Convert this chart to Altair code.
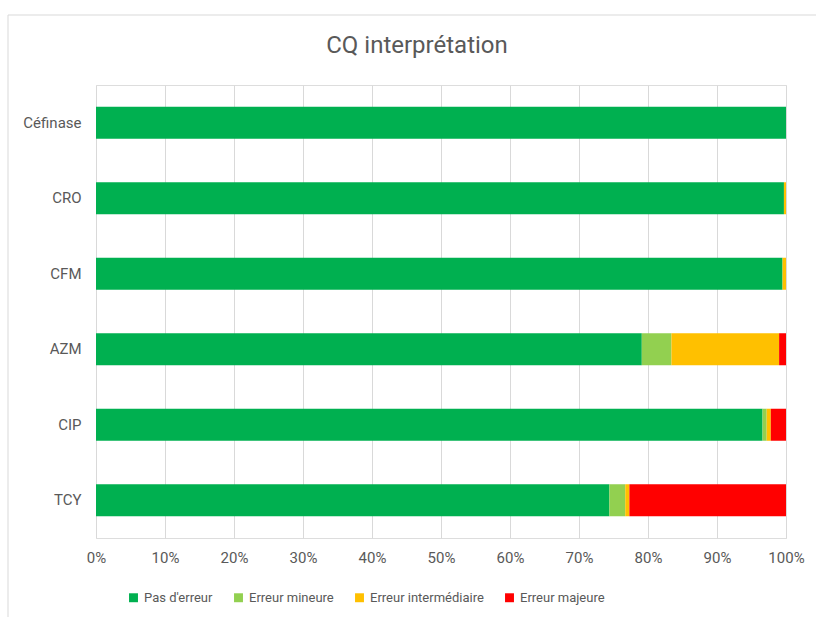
import altair as alt
import pandas as pd

# Categories (top to bottom) and the share of each interpretation outcome (%)
categories = ["Céfinase", "CRO", "CFM", "AZM", "CIP", "TCY"]
pas_erreur = [100.0, 99.7, 99.5, 79.1, 96.6, 74.4]
erreur_mineure = [0.0, 0.0, 0.0, 4.3, 0.6, 2.3]
erreur_intermediaire = [0.0, 0.3, 0.5, 15.6, 0.6, 0.6]
erreur_majeure = [0.0, 0.0, 0.0, 1.0, 2.2, 22.7]

series_names = ["Pas d'erreur", "Erreur mineure", "Erreur intermédiaire", "Erreur majeure"]
series_colors = ["#00B050", "#92D050", "#FFC000", "#FF0000"]
series_values = [pas_erreur, erreur_mineure, erreur_intermediaire, erreur_majeure]

rows = []
for s_idx, (name, vals) in enumerate(zip(series_names, series_values)):
    for cat, v in zip(categories, vals):
        rows.append({"categorie": cat, "serie": name, "ordre": s_idx, "valeur": v})
df = pd.DataFrame(rows)

FONT = "Roboto"
GREY_TEXT = "#595959"
GREY_LINE = "#d9d9d9"

bars = alt.Chart(df).mark_bar().encode(
    y=alt.Y(
        "categorie:N",
        sort=categories,
        title=None,
        scale=alt.Scale(paddingInner=0.576, paddingOuter=0.288),
        axis=alt.Axis(domain=False, ticks=False, labelPadding=15,
                      labelFontSize=15, labelColor=GREY_TEXT, labelFont=FONT),
    ),
    x=alt.X(
        "valeur:Q",
        stack="normalize",
        title=None,
        scale=alt.Scale(domain=[0, 1]),
        axis=alt.Axis(values=[i / 10 for i in range(11)], format=".0%",
                      domain=False, ticks=False, labelPadding=12,
                      labelFlush=False,
                      labelFontSize=15, labelColor=GREY_TEXT, labelFont=FONT,
                      grid=True, gridColor=GREY_LINE, gridWidth=1),
    ),
    color=alt.Color(
        "serie:N",
        scale=alt.Scale(domain=series_names, range=series_colors),
        title=None,
        legend=alt.Legend(orient="none", direction="horizontal",
                          legendX=31, legendY=506,
                          symbolType="square", symbolSize=80, symbolStrokeWidth=0,
                          labelFontSize=13, labelColor=GREY_TEXT, labelFont=FONT,
                          labelOffset=4, columnPadding=19),
    ),
    order=alt.Order("ordre:Q", sort="ascending"),
)

# Light grey frame around the whole chart area
frame = alt.Chart(pd.DataFrame({"k": [0]})).mark_rect(
    fill=None, stroke=GREY_LINE, strokeWidth=1
).encode(
    x=alt.value(-88), x2=alt.value(740),
    y=alt.value(-70), y2=alt.value(545),
)

chart = alt.layer(frame, bars).properties(
    width=690,
    height=453,
    padding={"left": 96, "top": 85, "right": 30, "bottom": 79},
    autosize=alt.AutoSizeParams(type="none"),
    title=alt.TitleParams("CQ interprétation", fontSize=24, font=FONT,
                          fontWeight="normal", color=GREY_TEXT,
                          offset=30, dy=73, dx=-24),
).configure_view(stroke=None).configure(background="white")

chart.save("out.html", embed_options={"renderer": "svg", "actions": False})
